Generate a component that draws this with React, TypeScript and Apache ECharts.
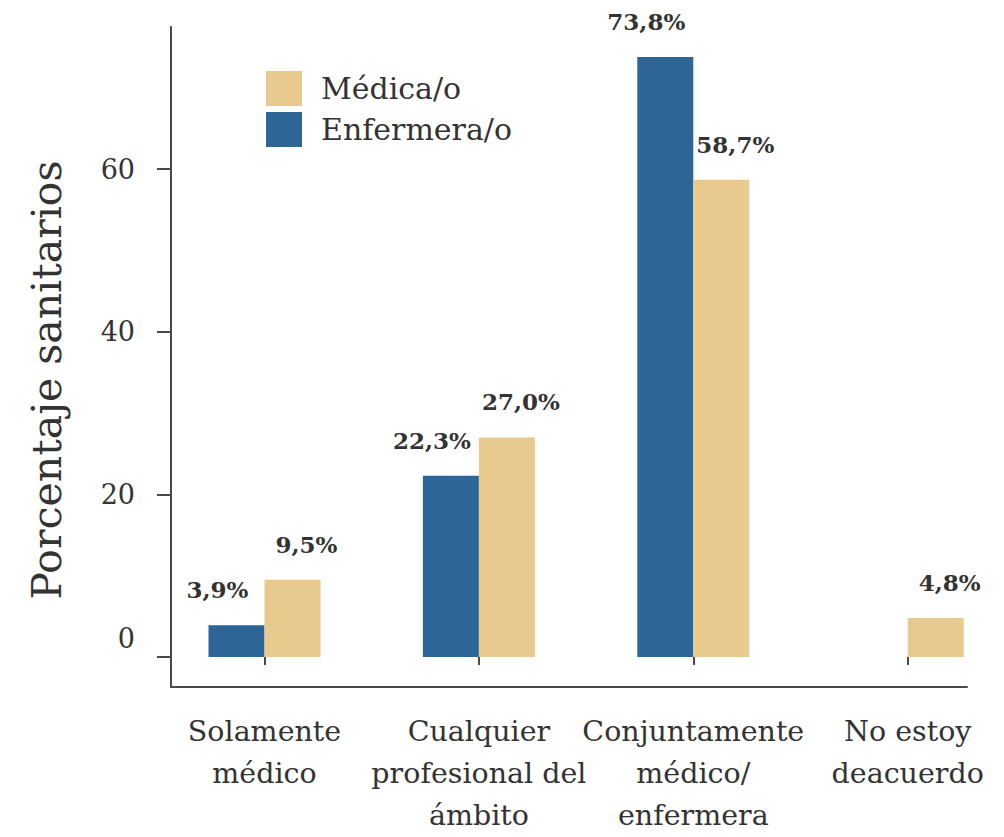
import React, { useEffect, useRef } from "react";
import * as echarts from "echarts";

const categories = [
  "Solamente\nmédico",
  "Cualquier\nprofesional del\námbito",
  "Conjuntamente\nmédico/\nenfermera",
  "No estoy\ndeacuerdo",
];
const enfermeraValues = [3.9, 22.3, 73.8, 0];
const medicaValues = [9.5, 27.0, 58.7, 4.8];
const yTicks = [0, 20, 40, 60];
const seriesNames = ["Enfermera/o", "Médica/o"];
const legendOrder = ["Médica/o", "Enfermera/o"];
const yTitle = "Porcentaje sanitarios";

const FONT = "DejaVu Serif";
const TEXT = "#333333";
const AXIS = "#4a4a4a";
const BLUE = "#2c6596";
const TAN = "#e8ca8f";
const Y_MIN = -3.69;
const Y_MAX = 77.49;

const fmt = (v: number) => (v ? v.toFixed(1).replace(".", ",") + "%" : "");

export default function App() {
  const ref = useRef<HTMLDivElement>(null);
  useEffect(() => {
    if (!ref.current) return;
    const chart = echarts.init(ref.current, null, { renderer: "svg" });
    const labelBase = {
      show: true,
      position: "top" as const,
      distance: 24,
      fontFamily: FONT,
      fontSize: 23,
      fontWeight: "bold" as const,
      color: TEXT,
      formatter: (p: any) => fmt(p.value),
    };
    chart.setOption({
      animation: false,
      backgroundColor: "#ffffff",
      grid: [
        { left: 171, right: 37, top: 27, bottom: 150, containLabel: false, outerBoundsMode: "none" },
        { left: 157.3, width: 857.6, top: 27, bottom: 150, containLabel: false, outerBoundsMode: "none" },
      ],
      legend: {
        data: legendOrder,
        orient: "vertical",
        left: 266,
        top: 71,
        itemWidth: 36,
        itemHeight: 35,
        itemGap: 6,
        icon: "rect",
        padding: 0,
        textStyle: {
          fontFamily: FONT,
          fontSize: 30,
          color: TEXT,
          padding: [0, 0, 0, 14],
        },
      },
      xAxis: [
        {
          gridIndex: 0,
          type: "value",
          min: 0,
          max: 1,
          axisLine: { show: true, onZero: false, lineStyle: { color: AXIS, width: 2 } },
          axisTick: { show: false },
          axisLabel: { show: false },
          splitLine: { show: false },
        },
        {
          gridIndex: 1,
          type: "category",
          data: categories,
          axisLine: { show: false },
          axisTick: {
            show: true,
            alignWithLabel: true,
            length: 8,
            lineStyle: { color: AXIS, width: 2 },
          },
          axisLabel: {
            interval: 0,
            hideOverlap: false,
            margin: 23,
            fontFamily: FONT,
            fontSize: 28.5,
            lineHeight: 42,
            color: TEXT,
          },
        },
      ],
      yAxis: [
        {
          gridIndex: 0,
          type: "value",
          min: Y_MIN,
          max: Y_MAX,
          name: yTitle,
          nameLocation: "middle",
          nameGap: 104,
          nameTextStyle: {
            fontFamily: FONT,
            fontSize: 41,
            color: TEXT,
            padding: [0, 46, 0, 0],
          },
          axisLine: { show: true, lineStyle: { color: AXIS, width: 2 } },
          axisTick: {
            show: true,
            length: 14,
            customValues: yTicks,
            lineStyle: { color: AXIS, width: 2 },
          },
          axisLabel: {
            customValues: yTicks,
            margin: 36,
            fontFamily: FONT,
            fontSize: 27,
            color: TEXT,
            formatter: (v: number) => (v === 0 ? "{z|0}" : String(v)),
            rich: {
              z: { fontFamily: FONT, fontSize: 27, color: TEXT, padding: [0, 0, 38, 0] },
            },
          },
          splitLine: { show: false },
        },
        {
          gridIndex: 1,
          type: "value",
          min: Y_MIN,
          max: Y_MAX,
          show: false,
          splitLine: { show: false },
        },
      ],
      series: [
        {
          name: seriesNames[0],
          type: "bar",
          xAxisIndex: 1,
          yAxisIndex: 1,
          data: enfermeraValues,
          barWidth: 56,
          barGap: "0%",
          itemStyle: { color: BLUE },
          label: { ...labelBase, offset: [-19, 0] },
        },
        {
          name: seriesNames[1],
          type: "bar",
          xAxisIndex: 1,
          yAxisIndex: 1,
          data: medicaValues,
          barWidth: 56,
          barGap: "0%",
          itemStyle: { color: TAN },
          label: { ...labelBase, offset: [14, 0] },
        },
      ],
    });
    return () => chart.dispose();
  }, []);
  return (
    <div
      ref={ref}
      style={{ position: "fixed", left: 0, top: 0, width: 1004, height: 837, background: "#fff" }}
    />
  );
}
